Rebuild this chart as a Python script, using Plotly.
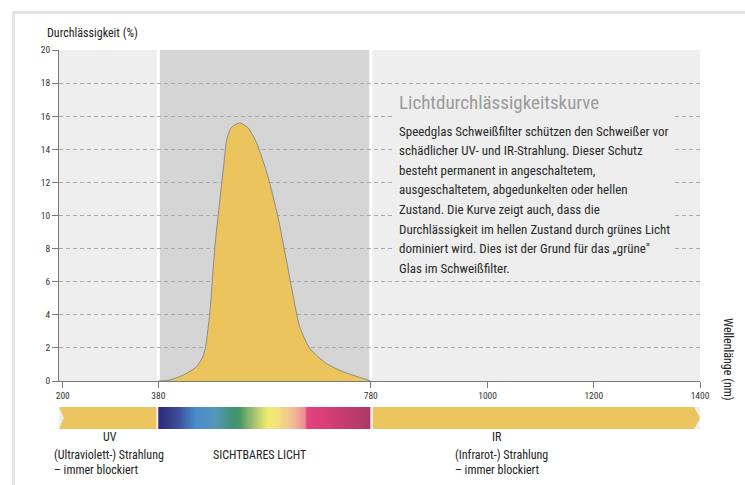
import plotly.graph_objects as go

# ---------------- data ----------------
wavelength_nm = [380, 400, 427, 452, 464, 469, 477, 486, 496, 503, 509, 517, 533,
                 549, 565, 586, 605, 621, 633, 646, 665, 696, 727, 759, 780]
transmission_pct = [0, 0.05, 0.36, 0.87, 1.47, 2.08, 4.1, 7.94, 10.97, 12.99, 14.6,
                    15.3, 15.6, 15.3, 14.4, 12.4, 9.96, 7.33, 5.3, 3.3, 1.98, 1.07,
                    0.57, 0.22, 0]

x_ticks = [200, 380, 780, 1000, 1200, 1400]
y_ticks = [0, 2, 4, 6, 8, 10, 12, 14, 16, 18, 20]

region_bounds = {"uv": (200, 380), "visible": (380, 780), "ir": (780, 1400)}

spectrum_stops = [0.00, 0.08, 0.18, 0.27, 0.36, 0.39, 0.46, 0.52, 0.57, 0.64, 0.69, 0.70, 0.80, 1.00]
spectrum_colors = ["#2d2a7a", "#3a4694", "#4a8dcc", "#5596b6", "#3f936e", "#4e9a64",
                   "#b4c870", "#f2ec72", "#f4dc80", "#f2b898", "#ea8e92", "#e3447c",
                   "#d63e76", "#a93a67"]

title_text = "Lichtdurchlässigkeitskurve"
body_lines = [
    "Speedglas Schweißfilter schützen den Schweißer vor",
    "schädlicher UV- und IR-Strahlung. Dieser Schutz",
    "besteht permanent in angeschaltetem,",
    "ausgeschaltetem, abgedunkelten oder hellen",
    "Zustand. Die Kurve zeigt auch, dass die",
    "Durchlässigkeit im hellen Zustand durch grünes Licht",
    "dominiert wird. Dies ist der Grund für das „grüne\"",
    "Glas im Schweißfilter.",
]

# ---------------- layout geometry ----------------
W, H = 745, 485
L, R, T, B = 59, 45, 50, 56
PW, PH = W - L - R, H - T - B
FONT = "Roboto Condensed, Liberation Sans Narrow, sans-serif"
YELLOW = "#ecc55f"


def px(x):
    return (x - L) / PW


def py(y):
    return (H - B - y) / PH


fig = go.Figure()

# spectrum band (heatmap on second y axis)
vis0, vis1 = region_bounds["visible"]
n = 200
edges = [vis0 + (vis1 - vis0) * i / n for i in range(n + 1)]
mids = [(edges[i] + edges[i + 1]) / 2 for i in range(n)]
fig.add_trace(go.Heatmap(
    x=edges, y=[0, 1], z=[mids], zmin=vis0, zmax=vis1,
    colorscale=[[s, c] for s, c in zip(spectrum_stops, spectrum_colors)],
    showscale=False, hoverinfo="skip", xaxis="x", yaxis="y2",
))

# transmission curve
fig.add_trace(go.Scatter(
    x=wavelength_nm, y=transmission_pct, mode="lines", fill="tozeroy",
    fillcolor="#ecc45e", line=dict(color="#8c8c8c", width=1, shape="spline", smoothing=0.6),
    hoverinfo="skip", showlegend=False,
))

shapes = []
# dark visible region + white separators
shapes.append(dict(type="rect", xref="x", yref="y", x0=vis0, x1=vis1, y0=0, y1=20,
                   fillcolor="#d5d5d5", line_width=0, layer="below"))
for xv in (vis0, vis1):
    shapes.append(dict(type="line", xref="x", yref="y", x0=xv, x1=xv, y0=0, y1=20,
                       line=dict(color="white", width=3), layer="below"))
# text box backdrop hiding grid lines
shapes.append(dict(type="rect", xref="x", yref="y", x0=822, x1=1347, y0=6.3, y1=17.6,
                   fillcolor="#eeeeee", line_width=0, layer="between"))
# UV arrow (notched left end)
uv1 = region_bounds["uv"][1]
shapes.append(dict(type="path", xref="x", yref="y2",
                   path=f"M 193,0 L {uv1-4},0 L {uv1-4},1 L 193,1 L 202,0.5 Z",
                   fillcolor=YELLOW, line_width=0))
# IR arrow (pointed right end)
ir0, ir1 = region_bounds["ir"]
shapes.append(dict(type="path", xref="x", yref="y2",
                   path=f"M {ir0+4},0 L {ir1-11},0 L {ir1},0.5 L {ir1-11},1 L {ir0+4},1 Z",
                   fillcolor=YELLOW, line_width=0))
# outer light frame
shapes.append(dict(type="rect", xref="paper", yref="paper",
                   x0=px(13.5), x1=px(760), y0=py(500), y1=py(12.5),
                   line=dict(color="#e3e3e3", width=3), fillcolor="rgba(0,0,0,0)", layer="below"))

annotations = []


def ann(text, x, y, size=12, color="#222", xanchor="left", angle=0):
    annotations.append(dict(text=text, x=px(x), y=py(y), xref="paper", yref="paper",
                            showarrow=False, xanchor=xanchor, yanchor="middle",
                            textangle=angle, font=dict(family=FONT, size=size, color=color)))


ann("Durchlässigkeit (%)", 45, 33, size=12)
ann("Wellenlänge (nm)", 728, 359, size=12, xanchor="center", angle=90)
ann(title_text, 397, 102, size=19, color="#9b9b9b")
for i, line in enumerate(body_lines):
    ann(line, 397, 131 + i * 19.6, size=13, color="#2a2a2a")
ann("UV", 110, 437, size=12, xanchor="center")
ann("(Ultraviolett-) Strahlung", 52, 455, size=12)
ann("– immer blockiert", 52, 470, size=12)
ann("SICHTBARES LICHT", 259, 455, size=12, xanchor="center")
ann("IR", 497, 437, size=12, xanchor="center")
ann("(Infrarot-) Strahlung", 453, 455, size=12)
ann("– immer blockiert", 453, 470, size=12)

fig.update_layout(
    width=W, height=H, margin=dict(l=L, r=R, t=T, b=B),
    paper_bgcolor="white", plot_bgcolor="#eeeeee",
    showlegend=False, shapes=shapes, annotations=annotations,
    font=dict(family=FONT, size=9, color="#333"),
    xaxis=dict(range=[193, 1400], tickvals=x_ticks, ticktext=[str(v) for v in x_ticks],
               showgrid=False, zeroline=False, showline=True, linecolor="#7a7a7a", linewidth=1,
               ticks="outside", ticklen=6, tickcolor="#7a7a7a", anchor="y",
               tickfont=dict(family=FONT, size=9.5, color="#333")),
    yaxis=dict(range=[0, 20], tickvals=y_ticks, domain=[py(381), 1],
               showgrid=True, gridcolor="#a9a9a9", griddash="4px,3px", gridwidth=1,
               zeroline=False, showline=True, linecolor="#7a7a7a", linewidth=1,
               ticks="outside", ticklen=6, tickcolor="#7a7a7a",
               tickfont=dict(family=FONT, size=9.5, color="#333")),
    yaxis2=dict(domain=[0, py(407)], range=[0, 1], visible=False, anchor="x"),
)

fig.write_html("out.html", config={"displayModeBar": False},
               post_script="document.body.style.margin='0';")
